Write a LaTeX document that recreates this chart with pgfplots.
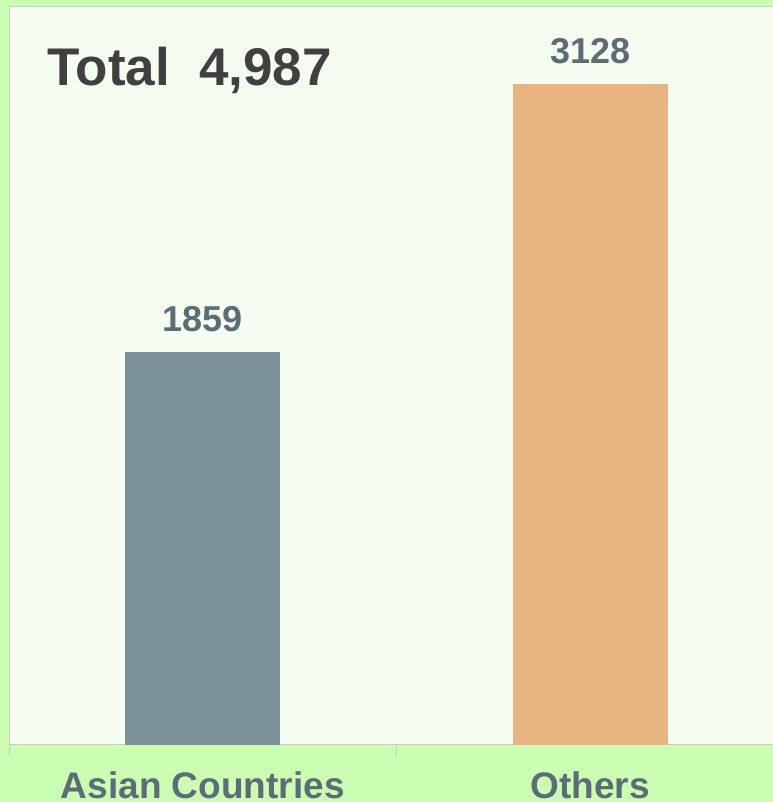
\documentclass[border=0pt]{standalone}
\usepackage{pgfplots}
\pgfplotsset{compat=1.18}
\usepackage{fontspec}
\setmainfont{Liberation Sans}
\definecolor{outerbg}{HTML}{CBFDB2}
\definecolor{innerbg}{HTML}{F5FDF1}
\definecolor{barA}{HTML}{7A9297}
\definecolor{barB}{HTML}{E8B482}
\definecolor{lbl}{HTML}{5B6E77}
\definecolor{ttl}{HTML}{404040}
\definecolor{axln}{HTML}{C9CFC6}
\begin{document}
\begin{tikzpicture}[x=1bp,y=1bp]
\useasboundingbox (0,0) rectangle (773,802);
\fill[outerbg] (0,0) rectangle (773,802);
\clip (0,0) rectangle (773,802);
\begin{axis}[
  at={(9bp,57bp)}, anchor=south west,
  scale only axis, width=775bp, height=738bp,
  xmin=-0.5, xmax=1.5, ymin=0, ymax=3493,
  axis background/.style={fill=innerbg},
  axis line style={draw=axln, line width=1bp},
  ytick=\empty,
  xtick={-0.5,0.5,1.5}, xticklabels={},
  xtick pos=lower,
  tick align=outside, major tick length=12bp,
  tick style={draw=axln, line width=1bp},
  extra x ticks={0,1},
  extra x tick labels={Asian Countries,Others},
  extra x tick style={major tick length=0pt, tick style={draw=none},
    xticklabel style={anchor=base, yshift=-53.5bp, font=\fontsize{37bp}{40bp}\selectfont\bfseries, text=lbl}},
  ybar, bar width=155bp, bar shift=0pt,
  point meta=explicit symbolic,
  nodes near coords,
  nodes near coords style={anchor=base, yshift=20.5bp, font=\fontsize{36bp}{40bp}\selectfont\bfseries, text=lbl},
  clip=false,
]
\addplot[fill=barA, draw=none] coordinates {(0,1859) [1859]};
\addplot[fill=barB, draw=none] coordinates {(1,3128) [3128]};
\end{axis}
\node[anchor=base west, inner sep=0, text=ttl, font=\fontsize{53bp}{56bp}\selectfont\bfseries] at (47,716) {Total\ \ 4,987};
\end{tikzpicture}
\end{document}
